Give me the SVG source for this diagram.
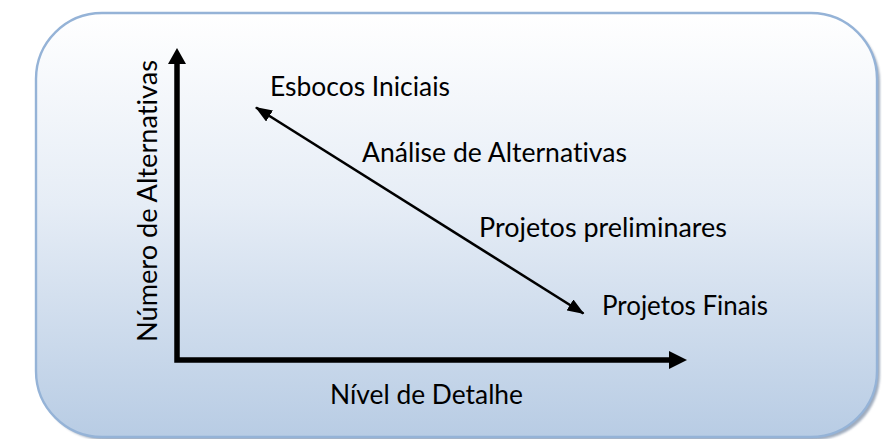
<svg xmlns="http://www.w3.org/2000/svg" width="887" height="439" viewBox="0 0 887 439">
  <style>
    .lbl { font-family: Lato, "Open Sans", "Liberation Sans", sans-serif; font-size: 27px; fill: #000; font-variant-ligatures: none; }
    .axis { stroke: #000; stroke-width: 5.5; fill: none; }
    .diag { stroke: #000; stroke-width: 2.6; fill: none; }
  </style>
  <defs>
    <linearGradient id="bg" x1="0" y1="0" x2="0" y2="1">
      <stop offset="0" stop-color="#ffffff"/>
      <stop offset="0.45" stop-color="#e6edf6"/>
      <stop offset="1" stop-color="#b8cce4"/>
    </linearGradient>
    <filter id="sh" x="-5%" y="-5%" width="110%" height="110%">
      <feGaussianBlur stdDeviation="1"/>
    </filter>
    <marker id="ah" viewBox="0 0 17 13" refX="16" refY="6.5" markerWidth="17" markerHeight="13" markerUnits="userSpaceOnUse" orient="auto-start-reverse">
      <path d="M0,0 L17,6.5 L0,13 Z" fill="#000"/>
    </marker>
  </defs>

  <g id="frame">
    <rect x="39" y="16" width="841" height="424" rx="66" ry="66" fill="#8797ad" opacity="0.8" filter="url(#sh)"/>
    <rect x="36" y="13" width="841" height="424" rx="66" ry="66" fill="url(#bg)" stroke="#95b3d7" stroke-width="2.4"/>
  </g>

  <g id="connectors">
    <path class="axis" d="M177,64 L177,360 L669,360"/>
    <path d="M177,48 L168,64 L186,64 Z" fill="#000"/>
    <path d="M687,360 L669,351 L669,369 Z" fill="#000"/>
    <line class="diag" x1="256" y1="107.5" x2="583.5" y2="313.5" marker-start="url(#ah)" marker-end="url(#ah)"/>
  </g>

  <g id="y-axis-label">
    <text class="lbl" transform="translate(157,201) rotate(-90)" text-anchor="middle" textLength="282" lengthAdjust="spacingAndGlyphs">Número de Alternativas</text>
  </g>
  <g id="x-axis-label">
    <text class="lbl" x="330" y="404" textLength="193" lengthAdjust="spacingAndGlyphs">Nível de Detalhe</text>
  </g>
  <g id="esbocos">
    <text class="lbl" x="270" y="96" textLength="180" lengthAdjust="spacingAndGlyphs">Esbocos Iniciais</text>
  </g>
  <g id="analise">
    <text class="lbl" x="362" y="162" textLength="265" lengthAdjust="spacingAndGlyphs">Análise de Alternativas</text>
  </g>
  <g id="preliminares">
    <text class="lbl" x="479" y="237" textLength="248" lengthAdjust="spacingAndGlyphs">Projetos preliminares</text>
  </g>
  <g id="finais">
    <text class="lbl" x="602" y="315" textLength="166" lengthAdjust="spacingAndGlyphs">Projetos Finais</text>
  </g>
</svg>
